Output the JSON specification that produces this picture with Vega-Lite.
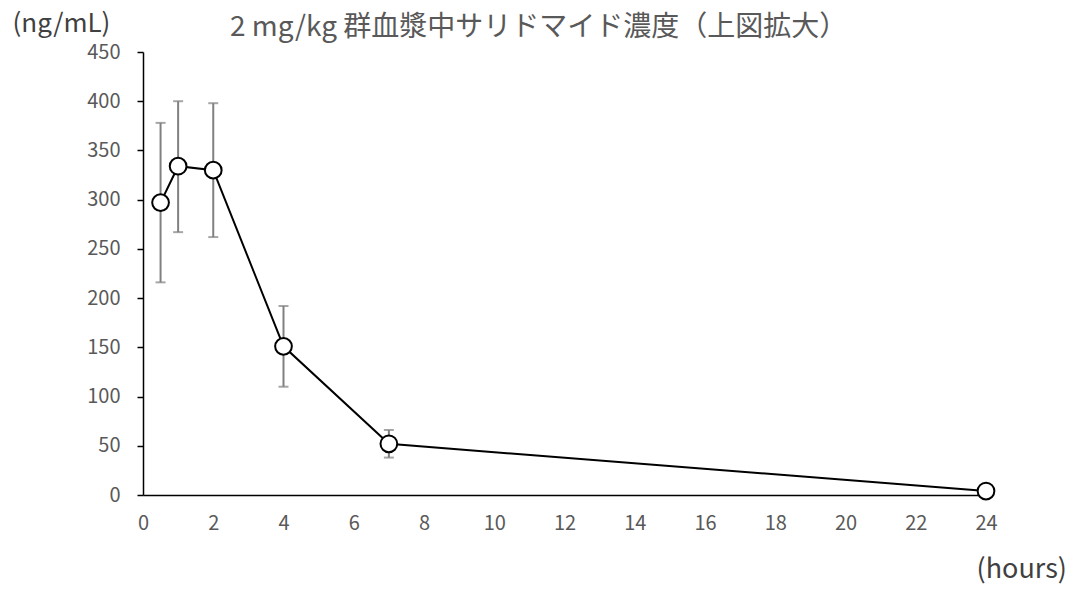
{
  "$schema": "https://vega.github.io/schema/vega-lite/v6.json",
  "autosize": "none",
  "width": 843,
  "height": 443,
  "padding": {"left": 143, "top": 52, "right": 84, "bottom": 97},
  "background": "white",
  "config": {"view": {"stroke": null}, "font": "Noto Sans CJK JP"},
  "title": {
    "text": "2 mg/kg 群血漿中サリドマイド濃度（上図拡大）",
    "anchor": "start",
    "frame": "group",
    "dx": 87,
    "fontSize": 28,
    "fontWeight": "normal",
    "color": "#595959",
    "font": "Noto Sans CJK JP",
    "baseline": "alphabetic",
    "offset": -54
  },
  "data": {
    "values": [
      {"t": 0.5, "c": 297, "lo": 216, "hi": 378},
      {"t": 1, "c": 334, "lo": 267, "hi": 400},
      {"t": 2, "c": 330, "lo": 262, "hi": 398},
      {"t": 4, "c": 151, "lo": 110, "hi": 192},
      {"t": 7, "c": 52, "lo": 38, "hi": 66},
      {"t": 24, "c": 4}
    ]
  },
  "encoding": {
    "x": {
      "field": "t", "type": "quantitative",
      "scale": {"domain": [0, 24], "nice": false},
      "axis": {
        "title": "(hours)", "titleAngle": 0, "titleAlign": "left", "titleBaseline": "alphabetic",
        "titleX": 833, "titleY": 82, "titleFontSize": 27, "titleFontWeight": "normal", "titleColor": "#404040",
        "values": [0,2,4,6,8,10,12,14,16,18,20,22,24],
        "grid": false, "ticks": false, "domainColor": "black", "domainWidth": 1.5,
        "labelFlush": false, "labelOverlap": false,
        "labelFontSize": 20, "labelColor": "#595959", "labelPadding": 18, "labelFont": "Noto Sans CJK JP"
      }
    }
  },
  "layer": [
    {
      "mark": {"type": "rule", "color": "#808080", "strokeWidth": 2},
      "encoding": {
        "y": {"field": "lo", "type": "quantitative",
          "scale": {"domain": [0, 450], "nice": false},
          "axis": {
            "title": "(ng/mL)", "titleAngle": 0, "titleAlign": "left", "titleBaseline": "alphabetic",
            "titleX": -131, "titleY": -21, "titleFontSize": 26, "titleFontWeight": "normal", "titleColor": "#404040",
            "values": [0,50,100,150,200,250,300,350,400,450],
            "grid": false, "ticks": true, "tickSize": 6, "tickColor": "black", "tickWidth": 1.5,
            "domainColor": "black", "domainWidth": 1.5,
            "labelFlush": false, "labelOverlap": false,
            "labelFontSize": 20, "labelColor": "#595959", "labelPadding": 17, "labelFont": "Noto Sans CJK JP"
          }
        },
        "y2": {"field": "hi"}
      }
    },
    {
      "mark": {"type": "tick", "color": "#808080", "thickness": 2, "size": 10, "orient": "horizontal"},
      "encoding": {"y": {"field": "lo", "type": "quantitative"}}
    },
    {
      "mark": {"type": "tick", "color": "#808080", "thickness": 2, "size": 10, "orient": "horizontal"},
      "encoding": {"y": {"field": "hi", "type": "quantitative"}}
    },
    {
      "mark": {"type": "line", "color": "black", "strokeWidth": 2},
      "encoding": {"y": {"field": "c", "type": "quantitative"}}
    },
    {
      "mark": {"type": "point", "shape": "circle", "filled": true, "fill": "white", "stroke": "black", "strokeWidth": 2, "size": 280, "opacity": 1},
      "encoding": {"y": {"field": "c", "type": "quantitative"}}
    }
  ]
}
